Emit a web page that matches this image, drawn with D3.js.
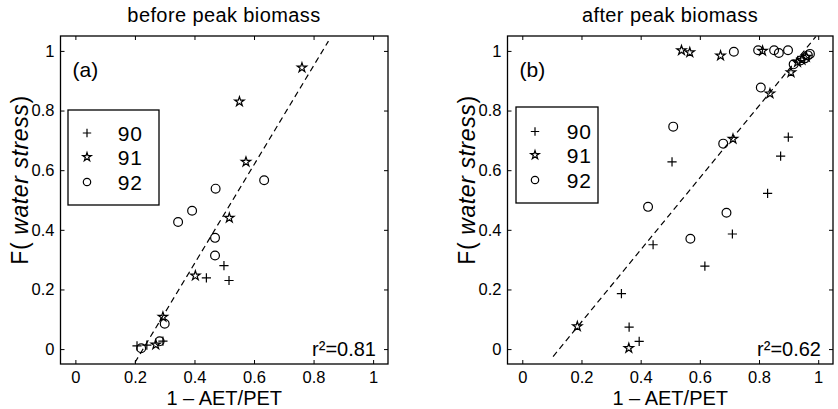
<!DOCTYPE html>
<html>
<head>
<meta charset="utf-8">
<script src="https://cdn.jsdelivr.net/npm/d3@7"></script>
<style>
  body { margin: 0; background: #fff; }
  svg { font-family: "Liberation Sans", Arial, Helvetica, sans-serif; }
</style>
</head>
<body>
<svg id="chart" width="838" height="409"></svg>
<script>
'use strict';

var years = ['90', '91', '92'];
var tickValues = [0, 0.2, 0.4, 0.6, 0.8, 1];
var tickLabels = ['0', '0.2', '0.4', '0.6', '0.8', '1'];
var panelTitles = ['before peak biomass', 'after peak biomass'];
var panelTags = ['(a)', '(b)'];
var r2Labels = ['r\u00b2=0.81', 'r\u00b2=0.62'];

// points are [1 - AET/PET, F(water stress)]
var before90 = [[0.207, 0.011], [0.24, 0.013], [0.294, 0.027], [0.44, 0.239], [0.499, 0.28], [0.516, 0.23]];
var before91 = [[0.761, 0.944], [0.551, 0.83], [0.573, 0.628], [0.517, 0.44], [0.403, 0.246], [0.294, 0.108], [0.27, 0.015]];
var before92 = [[0.634, 0.566], [0.471, 0.538], [0.392, 0.464], [0.345, 0.426], [0.469, 0.373], [0.469, 0.314],
                [0.30, 0.085], [0.283, 0.026], [0.221, 0.003]];

var after90 = [[0.899, 0.711], [0.873, 0.647], [0.829, 0.522], [0.506, 0.628], [0.71, 0.386], [0.442, 0.35],
               [0.617, 0.278], [0.335, 0.186], [0.361, 0.074], [0.395, 0.026]];
var after91 = [[0.538, 1.002], [0.566, 0.995], [0.67, 0.984], [0.812, 1.0], [0.908, 0.928], [0.837, 0.857],
               [0.712, 0.705], [0.186, 0.076], [0.36, 0.003], [0.93, 0.962], [0.945, 0.97], [0.96, 0.98]];
var after92 = [[0.715, 0.997], [0.797, 1.002], [0.851, 1.002], [0.867, 0.993], [0.898, 1.002], [0.806, 0.877],
               [0.51, 0.746], [0.679, 0.689], [0.69, 0.457], [0.425, 0.477], [0.568, 0.37], [0.917, 0.955],
               [0.94, 0.968], [0.955, 0.975], [0.965, 0.985], [0.972, 0.99]];

// dashed regression lines, end points
var fitBefore = [[0.2, -0.045], [0.85, 1.033]];
var fitAfter = [[0.104, -0.025], [0.992, 1.048]];

var svg = d3.select('#chart');

var panels = [
  { left: 60.5, right: 388, top: 36, bottom: 364, series: [before90, before91, before92], fit: fitBefore,
    legend: { x: 68, y: 110, w: 91, h: 95, markX: 87, textX: 143, rows: [133, 157, 182] },
    ylabelX: 20, titleX: 224 },
  { left: 507.5, right: 833, top: 36, bottom: 364, series: [after90, after91, after92], fit: fitAfter,
    legend: { x: 516, y: 107, w: 82, h: 96, markX: 535, textX: 592, rows: [131.5, 155, 180] },
    ylabelX: 467, titleX: 670 }
];

function drawMarker(g, kind, cx, cy, s) {
  if (kind === 0) {
    g.append('path')
      .attr('d', 'M' + (cx - s) + ',' + cy + 'H' + (cx + s) + 'M' + cx + ',' + (cy - s) + 'V' + (cy + s))
      .attr('stroke', '#000').attr('stroke-width', 1.2).attr('fill', 'none');
  } else if (kind === 1) {
    g.append('path')
      .attr('d', d3.symbol().type(d3.symbolStar).size(s * s * 1.3)())
      .attr('transform', 'translate(' + cx + ',' + cy + ')')
      .attr('stroke', '#000').attr('stroke-width', 1.2).attr('fill', 'none');
  } else {
    g.append('circle')
      .attr('cx', cx).attr('cy', cy).attr('r', s)
      .attr('stroke', '#000').attr('stroke-width', 1.2).attr('fill', 'none');
  }
}

panels.forEach(function (p, i) {
  var x = d3.scaleLinear().domain([-0.05, 1.05]).range([p.left, p.right]);
  var y = d3.scaleLinear().domain([-0.05, 1.05]).range([p.bottom, p.top]);
  var g = svg.append('g');

  // axes with inward ticks on all four sides
  var fmt = function (d, k) { return tickLabels[k]; };
  g.append('g').attr('transform', 'translate(0,' + p.bottom + ')')
    .call(d3.axisBottom(x).tickValues(tickValues).tickFormat(fmt).tickSizeInner(-4).tickSizeOuter(0).tickPadding(7));
  g.append('g').attr('transform', 'translate(' + p.left + ',0)')
    .call(d3.axisLeft(y).tickValues(tickValues).tickFormat(fmt).tickSizeInner(-4).tickSizeOuter(0).tickPadding(6));
  g.append('g').attr('transform', 'translate(0,' + p.top + ')')
    .call(d3.axisTop(x).tickValues(tickValues).tickFormat('').tickSizeInner(-4).tickSizeOuter(0));
  g.append('g').attr('transform', 'translate(' + p.right + ',0)')
    .call(d3.axisRight(y).tickValues(tickValues).tickFormat('').tickSizeInner(-4).tickSizeOuter(0));
  g.selectAll('.domain').remove();
  g.selectAll('.tick line').attr('stroke', '#000');
  g.selectAll('.tick text').attr('font-size', 16.5).attr('fill', '#000')
    .attr('font-family', '"Liberation Sans", Arial, sans-serif');

  g.append('rect')
    .attr('x', p.left).attr('y', p.top)
    .attr('width', p.right - p.left).attr('height', p.bottom - p.top)
    .attr('fill', 'none').attr('stroke', '#000').attr('stroke-width', 1.3);

  // regression line
  g.append('path')
    .attr('d', d3.line().x(function (d) { return x(d[0]); }).y(function (d) { return y(d[1]); })(p.fit))
    .attr('fill', 'none').attr('stroke', '#000').attr('stroke-width', 1.2)
    .attr('stroke-dasharray', '6,4');

  // points
  p.series.forEach(function (pts, k) {
    pts.forEach(function (d) {
      drawMarker(g, k, x(d[0]), y(d[1]), k === 2 ? 4.4 : 4.6);
    });
  });

  // legend
  var L = p.legend;
  g.append('rect').attr('x', L.x).attr('y', L.y).attr('width', L.w).attr('height', L.h)
    .attr('fill', '#fff').attr('stroke', '#000').attr('stroke-width', 1.3);
  years.forEach(function (yr, k) {
    drawMarker(g, k, L.markX, L.rows[k], k === 2 ? 3.7 : 4.2);
    g.append('text').attr('x', L.textX).attr('y', L.rows[k] + 7.5)
      .attr('text-anchor', 'end').attr('font-size', 21).attr('letter-spacing', 1).text(yr);
  });

  // texts
  g.append('text').attr('x', p.left + 12).attr('y', 77).attr('font-size', 21).text(panelTags[i]);
  g.append('text').attr('x', p.right - 12).attr('y', 356).attr('text-anchor', 'end')
    .attr('font-size', 20).text(r2Labels[i]);
  g.append('text').attr('x', p.titleX).attr('y', 22).attr('text-anchor', 'middle')
    .attr('font-size', 20).attr('letter-spacing', 0.4).text(panelTitles[i]);
  g.append('text').attr('x', (p.left + p.right) / 2).attr('y', 404.5).attr('text-anchor', 'middle')
    .attr('font-size', 20).text('1 \u2013 AET/PET');

  var yl = g.append('text')
    .attr('transform', 'translate(' + (p.ylabelX + 8) + ',180) rotate(-90)')
    .attr('text-anchor', 'middle').attr('font-size', 23).attr('letter-spacing', 0.6);
  yl.append('tspan').text('F( ');
  yl.append('tspan').attr('font-style', 'italic').text('water stress');
  yl.append('tspan').text(')');
});
</script>
</body>
</html>
